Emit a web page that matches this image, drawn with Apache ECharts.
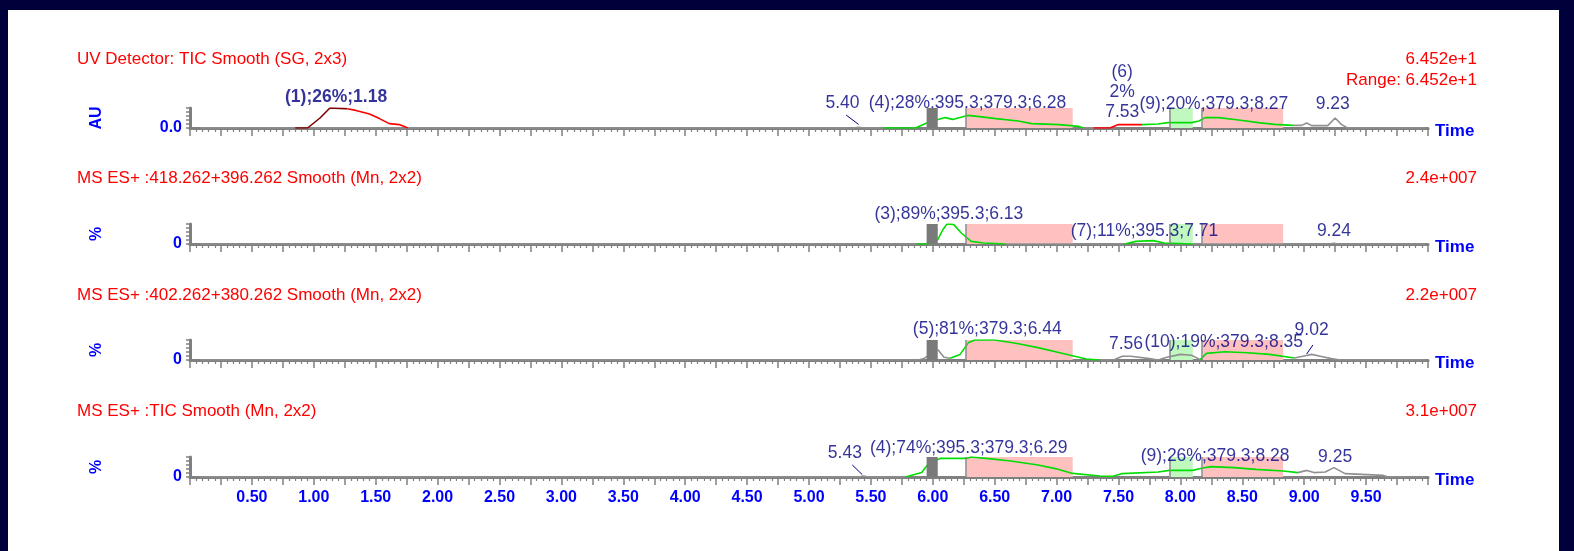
<!DOCTYPE html>
<html>
<head>
<meta charset="utf-8">
<script src="https://cdn.jsdelivr.net/npm/echarts@6/dist/echarts.min.js"></script>
<style>
  html, body { margin: 0; padding: 0; background: #fff; }
  #chart { width: 1574px; height: 551px; }
</style>
</head>
<body>
<div id="chart"></div>
<script>
var myChart = echarts.init(document.getElementById('chart'));

// 面板标题和右侧量程
var panelTitles = [
    'UV Detector: TIC Smooth (SG, 2x3)',
    'MS ES+ :418.262+396.262 Smooth (Mn, 2x2)',
    'MS ES+ :402.262+380.262 Smooth (Mn, 2x2)',
    'MS ES+ :TIC Smooth (Mn, 2x2)'
];
var panelScales = [
    ['6.452e+1', 'Range: 6.452e+1'],
    ['2.4e+007'],
    ['2.2e+007'],
    ['3.1e+007']
];
var yNames = ['AU', '%', '%', '%'];
var yZeroLabels = ['0.0', '0', '0', '0'];
var xName = 'Time';

// 时间轴刻度
var xTickValues = [0.5, 1, 1.5, 2, 2.5, 3, 3.5, 4, 4.5, 5, 5.5, 6, 6.5, 7, 7.5, 8, 8.5, 9, 9.5];
var xTickLabels = ['0.50', '1.00', '1.50', '2.00', '2.50', '3.00', '3.50', '4.00', '4.50', '5.00',
    '5.50', '6.00', '6.50', '7.00', '7.50', '8.00', '8.50', '9.00', '9.50'];

// 积分区域 (分钟)
var pinkBoxes = [[6.27, 7.13], [8.18, 8.83]];
var greenBoxes = [[7.91, 8.10]];
var grayBoxes = [[5.95, 6.04]];
var boundaryLines = [6.27, 7.91, 8.17];

// ---- 面板1: UV ----
var uvGray = [
    [[0.08, 0], [5.36, 0], [5.40, 4], [5.45, 0], [5.60, 0]],
    [[7.22, 0], [7.30, 0]],
    [[8.91, 13], [8.98, 13], [9.02, 25], [9.06, 12], [9.19, 12], [9.25, 50], [9.30, 18], [9.35, 0], [9.98, 0]]
];
var uvGreen = [
    [[5.60, 0], [5.86, 0], [5.97, 30], [6.10, 52], [6.16, 43], [6.28, 63], [6.36, 58], [6.51, 47],
     [6.69, 35], [6.80, 22], [7.02, 17], [7.18, 8], [7.22, 0]],
    [[7.69, 17], [7.82, 20], [7.90, 27], [8.09, 27], [8.15, 35], [8.20, 52], [8.31, 52], [8.47, 40],
     [8.63, 27], [8.76, 18], [8.91, 13]]
];
var uvRed = [
    [[1.27, 96], [1.34, 88], [1.45, 70], [1.53, 47], [1.61, 22], [1.69, 17], [1.76, 0]],
    [[7.30, 0], [7.43, 0], [7.50, 17], [7.69, 17]]
];
var uvDarkRed = [
    [[0.85, 0], [0.95, 0], [1.05, 50], [1.13, 100], [1.25, 97], [1.27, 96]]
];
var uvLeaders = [[[5.30, 65], [5.40, 18]]];
var uvLabels = [
    [1.18, 155, '(1);26%;1.18', true],
    [5.27, 125, '5.40'],
    [6.28, 125, '(4);28%;395.3;379.3;6.28'],
    [7.53, 180, '(6)\n2%\n7.53'],
    [8.27, 120, '(9);20%;379.3;8.27'],
    [9.23, 120, '9.23']
];

// ---- 面板2: 418+396 ----
var ms1Gray = [
    [[0.08, 0], [5.87, 0]],
    [[6.59, 0], [7.55, 0]],
    [[8.10, 0], [9.20, 0], [9.24, 4], [9.28, 0], [9.98, 0]]
];
var ms1Green = [
    [[5.87, 0], [5.97, 0], [6.04, 22], [6.08, 70], [6.11, 97], [6.13, 100], [6.17, 97], [6.23, 55],
     [6.31, 13], [6.41, 5], [6.59, 0]],
    [[7.55, 0], [7.64, 13], [7.78, 17], [7.87, 5], [8.10, 0]]
];
var ms1Labels = [
    [6.13, 150, '(3);89%;395.3;6.13'],
    [7.71, 65, '(7);11%;395.3;7.71'],
    [9.24, 65, '9.24']
];

// ---- 面板3: 402+380 ----
var ms2Gray = [
    [[0.08, 0], [5.88, 0], [5.93, 8], [5.96, 20]],
    [[6.04, 53], [6.09, 14], [6.14, 9]],
    [[7.35, 0], [7.46, 0], [7.53, 19], [7.60, 19], [7.75, 7], [7.82, 0], [7.89, 14], [8.00, 28],
     [8.09, 24], [8.16, 2]],
    [[8.92, 10], [8.99, 19], [9.06, 28], [9.13, 19], [9.22, 7], [9.29, 0], [9.98, 0]]
];
var ms2Green = [
    [[6.14, 9], [6.22, 28], [6.29, 88], [6.34, 100], [6.50, 100], [6.67, 84], [6.85, 62], [7.06, 31],
     [7.24, 5], [7.35, 0]],
    [[8.16, 2], [8.21, 33], [8.36, 41], [8.54, 36], [8.72, 28], [8.92, 10]]
];
var ms2Leaders = [[[9.02, 30], [9.07, 75]]];
var ms2Labels = [
    [6.44, 155, '(5);81%;379.3;6.44'],
    [7.56, 80, '7.56'],
    [8.35, 90, '(10);19%;379.3;8.35'],
    [9.06, 150, '9.02']
];

// ---- 面板4: TIC ----
var ticGray = [
    [[0.08, 0], [5.40, 0], [5.44, 5], [5.48, 0], [5.78, 0]],
    [[8.95, 22], [9.02, 33], [9.08, 22], [9.17, 25], [9.24, 47], [9.33, 17], [9.64, 8], [9.68, 0], [9.98, 0]]
];
var ticGreen = [
    [[5.78, 0], [5.91, 22], [5.96, 63], [6.04, 88], [6.06, 93], [6.27, 93], [6.31, 100], [6.45, 92],
     [6.63, 80], [6.85, 60], [6.99, 42], [7.13, 18], [7.35, 5], [7.45, 3], [7.53, 17], [7.82, 25],
     [7.91, 33], [8.10, 33], [8.18, 45], [8.25, 52], [8.43, 47], [8.61, 38], [8.83, 30], [8.95, 22]]
];
var ticLeaders = [[[5.35, 60], [5.43, 12]]];
var ticLabels = [
    [5.29, 120, '5.43'],
    [6.29, 145, '(4);74%;395.3;379.3;6.29'],
    [8.28, 105, '(9);26%;379.3;8.28'],
    [9.25, 100, '9.25']
];

var panels = [
    { gray: uvGray, green: uvGreen, red: uvRed, darkred: uvDarkRed, leaders: uvLeaders, labels: uvLabels },
    { gray: ms1Gray, green: ms1Green, red: [], darkred: [], leaders: [], labels: ms1Labels },
    { gray: ms2Gray, green: ms2Green, red: [], darkred: [], leaders: ms2Leaders, labels: ms2Labels },
    { gray: ticGray, green: ticGreen, red: [], darkred: [], leaders: ticLeaders, labels: ticLabels }
];

var gridTops = [108, 224, 340, 457];
var titleTops = [51, 170, 287, 403];
var FONT = '"Liberation Sans", Arial, sans-serif';
var AXIS_GRAY = '#808080';

var grid = [], xAxis = [], yAxis = [], series = [], title = [];

function boxArea(boxes) {
    return boxes.map(function (b) {
        return [{ xAxis: b[0], yAxis: 0 }, { xAxis: b[1], yAxis: 100 }];
    });
}

panels.forEach(function (p, i) {
    var last = i === panels.length - 1;
    grid.push({ left: 190, right: 146, top: gridTops[i], height: 20 });

    xAxis.push({
        type: 'value', gridIndex: i, min: 0, max: 10, interval: 0.25,
        axisLine: { onZero: false, lineStyle: { color: AXIS_GRAY, width: 3 } },
        axisTick: { length: 8, lineStyle: { color: AXIS_GRAY, width: 1.5 } },
        minorTick: { show: true, splitNumber: 5, length: 4, lineStyle: { color: AXIS_GRAY, width: 1.2 } },
        splitLine: { show: false },
        axisLabel: {
            show: last, margin: 13, color: '#0000ff', fontWeight: 'bold', fontSize: 16, fontFamily: FONT,
            formatter: function (v) {
                for (var k = 0; k < xTickValues.length; k++) {
                    if (Math.abs(xTickValues[k] - v) < 1e-6) return xTickLabels[k];
                }
                return '';
            }
        }
    });

    yAxis.push({
        type: 'value', gridIndex: i, min: 0, max: 100, interval: 20,
        name: yNames[i], nameLocation: 'middle', nameGap: 85,
        nameTextStyle: { color: '#0000ff', fontWeight: 'bold', fontSize: 16, fontFamily: FONT },
        axisLine: { show: true, lineStyle: { color: AXIS_GRAY, width: 3 } },
        axisTick: { show: true, length: 4, lineStyle: { color: AXIS_GRAY, width: 1.5 } },
        splitLine: { show: false },
        axisLabel: {
            margin: 8, color: '#0000ff', fontWeight: 'bold', fontSize: 16, fontFamily: FONT,
            formatter: function (v) { return v === 0 ? yZeroLabels[i] : ''; }
        }
    });

    // 标题
    title.push({
        text: panelTitles[i], left: 77, top: titleTops[i], padding: 0,
        textStyle: { color: '#ff0000', fontSize: 17, fontWeight: 'normal', fontFamily: FONT }
    });
    panelScales[i].forEach(function (s, k) {
        title.push({
            text: s, right: 97, top: titleTops[i] + k * 21, padding: 0,
            textStyle: { color: '#ff0000', fontSize: 17, fontWeight: 'normal', fontFamily: FONT }
        });
    });
    // 时间轴名称
    title.push({
        text: xName, left: 1435, top: gridTops[i] + 15, padding: 0,
        textStyle: { color: '#0000ff', fontSize: 17, fontWeight: 'bold', fontFamily: FONT }
    });

    // 区域框
    series.push({
        type: 'line', xAxisIndex: i, yAxisIndex: i, data: [], silent: true,
        markArea: { silent: true, z: 1, itemStyle: { color: '#ffc0c0' }, data: boxArea(pinkBoxes) }
    });
    series.push({
        type: 'line', xAxisIndex: i, yAxisIndex: i, data: [], silent: true,
        markArea: { silent: true, z: 1, itemStyle: { color: '#c0f8c0' }, data: boxArea(greenBoxes) }
    });
    series.push({
        type: 'line', xAxisIndex: i, yAxisIndex: i, data: [], silent: true,
        markArea: { silent: true, z: 10, itemStyle: { color: '#7a7a7a' }, data: boxArea(grayBoxes) },
        markLine: {
            silent: true, symbol: 'none', label: { show: false },
            lineStyle: { color: '#8a8a8a', width: 1.5, type: 'solid' },
            data: boundaryLines.map(function (x) { return { xAxis: x }; })
        }
    });

    // 曲线
    var traces = [['gray', '#909090'], ['green', '#00dd00'], ['red', '#ff0000'], ['darkred', '#800000']];
    traces.forEach(function (t) {
        p[t[0]].forEach(function (seg) {
            series.push({
                type: 'line', xAxisIndex: i, yAxisIndex: i, data: seg, showSymbol: false,
                silent: true, z: 3, lineStyle: { color: t[1], width: 1.6 }
            });
        });
    });
    p.leaders.forEach(function (seg) {
        series.push({
            type: 'line', xAxisIndex: i, yAxisIndex: i, data: seg, showSymbol: false, clip: false,
            silent: true, z: 4, lineStyle: { color: '#000080', width: 1 }
        });
    });

    // 峰标注
    series.push({
        type: 'scatter', xAxisIndex: i, yAxisIndex: i, symbolSize: 0, clip: false, silent: true, z: 6,
        data: p.labels.map(function (l) {
            return {
                value: [l[0], l[1]],
                label: {
                    show: true, position: 'inside', formatter: l[2], color: '#000080',
                    fontSize: 17.5, lineHeight: 20, fontFamily: FONT,
                    fontWeight: l[3] ? 'bold' : 'normal'
                }
            };
        })
    });
});

var option = {
    animation: false,
    backgroundColor: '#ffffff',
    title: title,
    grid: grid,
    xAxis: xAxis,
    yAxis: yAxis,
    series: series,
    graphic: [
        { type: 'rect', shape: { x: 0, y: 0, width: 1574, height: 10 }, style: { fill: '#00003a' } },
        { type: 'rect', shape: { x: 0, y: 0, width: 8, height: 551 }, style: { fill: '#00003a' } },
        { type: 'rect', shape: { x: 1559, y: 0, width: 15, height: 551 }, style: { fill: '#00003a' } }
    ]
};

myChart.setOption(option);
</script>
</body>
</html>
